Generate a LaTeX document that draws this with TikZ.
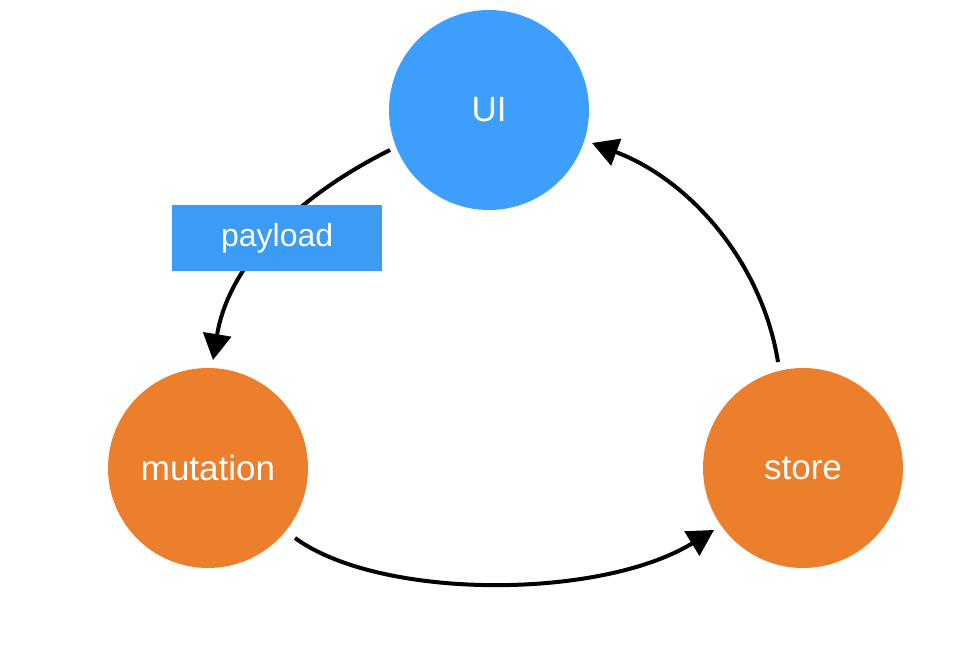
\documentclass[tikz,border=0pt]{standalone}
\usepackage{fontspec}
\setmainfont{Liberation Sans}
\usetikzlibrary{arrows.meta}
\definecolor{uiblue}{HTML}{3D9EFB}
\definecolor{morange}{HTML}{EC7F2C}
\definecolor{pblue}{HTML}{3C9BF5}
\tikzset{
  bubble/.style={circle, minimum size=200pt, inner sep=0pt, text=white, font=\fontsize{35}{40}\selectfont},
  flow/.style={line width=4pt, black, -{Triangle[length=26pt,width=28pt]}},
  tagbox/.style={fill=pblue, minimum width=210pt, minimum height=66pt, inner sep=0pt, text=white, font=\fontsize{32}{38}\selectfont}
}
\begin{document}
\begin{tikzpicture}[x=1pt,y=-1pt]
\useasboundingbox (0,0) rectangle (972,658);
\node[bubble, fill=uiblue] (ui) at (489,110) {UI};
\node[bubble, fill=morange] (mut) at (208,468) {mutation};
\node[bubble, fill=morange] (store) at (803,468) {store};
\coordinate (a1) at (390,150);
\coordinate (a2) at (213,360);
\coordinate (b1) at (295,538);
\coordinate (b2) at (714,530);
\coordinate (c1) at (778,362);
\coordinate (c2) at (592,143);
\draw[flow] (a1) .. controls (290,200) and (228,268) .. (a2);
\draw[flow] (b1) .. controls (380,600) and (600,600) .. (b2);
\draw[flow] (c1) .. controls (762,262) and (690,180) .. (c2);
\node[tagbox, anchor=north west] (pl) at (172,205) {\raisebox{-4pt}{payload}};
\end{tikzpicture}
\end{document}
